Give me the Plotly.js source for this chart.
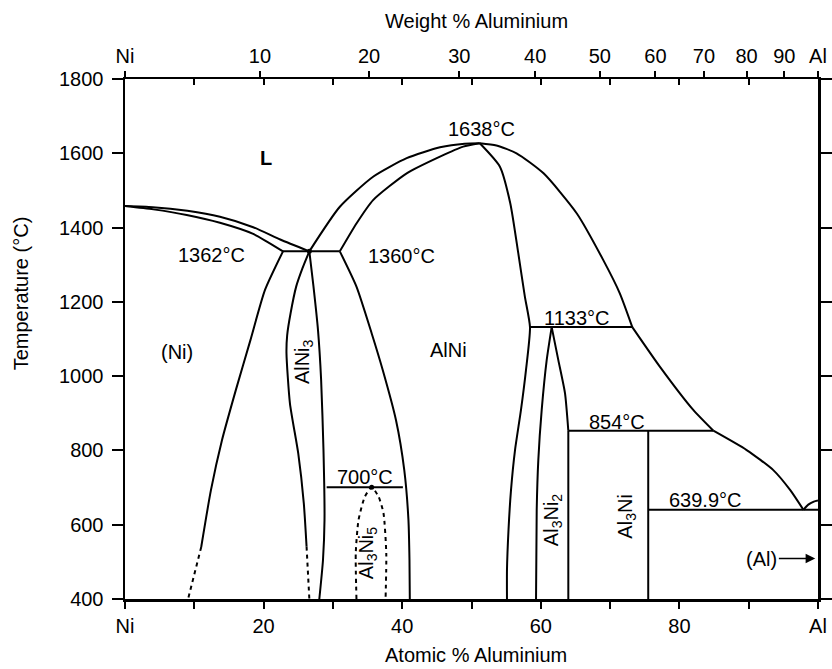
<!DOCTYPE html>
<html>
<head>
<meta charset="utf-8">
<script src="https://cdn.plot.ly/plotly-3.0.1.min.js"></script>
<style>
html,body{margin:0;padding:0;background:#fff;}
#chart{width:832px;height:669px;}
</style>
</head>
<body>
<div id="chart"></div>
<script>
// ---------- data (atomic % Al, temperature °C) ----------
const niLiqX = [0, 4.0, 9.0, 13.7, 18.5, 22.4, 26.6];
const niLiqT = [1458, 1455, 1445, 1429, 1401, 1368, 1336];
const niSolX = [0, 4.1, 8.9, 13.7, 18.5, 22.8];
const niSolT = [1458, 1449, 1434, 1413, 1383, 1336];
const perX = [22.8, 31.0];
const perT = [1336, 1336];
const niSolvX = [22.8, 20.2, 18.1, 16.0, 14.0, 12.4, 11.0];
const niSolvT = [1336, 1232, 1097, 963, 828, 693, 540];
const niSolvDashX = [11.0, 9.1];
const niSolvDashT = [540, 400];
const ni3LeftX = [26.6, 25.6, 24.7, 23.9, 23.4, 23.3, 23.8, 25.0, 25.8, 26.2];
const ni3LeftT = [1336, 1290, 1241, 1170, 1110, 1062, 927, 792, 658, 541];
const ni3LeftDashX = [26.2, 26.6];
const ni3LeftDashT = [541, 400];
const ni3RightX = [26.6, 27.2, 27.85, 28.3, 28.64, 28.79, 28.57, 28.04];
const ni3RightT = [1336, 1241, 1124, 990, 801, 613, 505, 400];
const alNiLeftX = [31.0, 33.4, 35.6, 37.2, 39.1, 40.3, 40.9, 41.05, 41.1];
const alNiLeftT = [1336, 1241, 1115, 1016, 882, 747, 613, 505, 400];
const alNiLiqLX = [26.6, 31.0, 35.8, 40.65, 45.45, 49.0, 51.2];
const alNiLiqLT = [1336, 1456, 1537, 1587, 1616, 1626, 1627];
const alNiSolLX = [31.0, 33.4, 35.8, 40.65, 45.45, 48.8, 51.2];
const alNiSolLT = [1336, 1411, 1474, 1546, 1591, 1618, 1627];
const alNiRightX = [51.2, 54.1, 55.6, 56.75, 57.7, 58.44, 57.86, 57.14, 56.28, 55.7, 55.34, 55.12, 55.12];
const alNiRightT = [1627, 1564, 1465, 1331, 1214, 1132, 1016, 909, 801, 693, 586, 478, 400];
const liqRightX = [51.2, 53.6, 56.5, 60.4, 65.2, 69.0, 71.4, 73.2];
const liqRightT = [1627, 1621, 1600, 1546, 1438, 1313, 1223, 1132];
const liqRight2X = [73.2, 77.2, 82.0, 84.9];
const liqRight2T = [1132, 1025, 909, 853];
const liqRight3X = [84.9, 89.7, 93.55, 96.0, 97.9];
const liqRight3T = [853, 801, 747, 693, 640];
const alSideX = [97.9, 98.6, 99.4, 100];
const alSideT = [640, 654, 662, 665];
const l1133X = [58.44, 73.2];
const l1133T = [1132, 1132];
const al3ni2LeftX = [59.31, 59.41, 59.64, 60.13, 60.85, 61.57];
const al3ni2LeftT = [400, 640, 774, 909, 1043, 1132];
const al3ni2RightX = [61.57, 62.53, 63.49, 63.97];
const al3ni2RightT = [1132, 1043, 954, 853];
const al3ni2VertX = [63.97, 63.97];
const al3ni2VertT = [853, 400];
const l854X = [63.97, 84.9];
const l854T = [853, 853];
const al3niX = [75.5, 75.5];
const al3niT = [853, 400];
const l640X = [75.5, 100];
const l640T = [640, 640];
const l700X = [29.1, 40.1];
const l700T = [701, 701];
const al3ni5X = [33.4, 33.3, 33.7, 34.6, 35.6, 36.6, 37.3, 37.7, 37.6];
const al3ni5T = [400, 524, 613, 675, 701, 675, 631, 524, 400];
const dotX = [26.6, 35.6];
const dotT = [1336, 701];

// tick labels
const atTicks = [0, 20, 40, 60, 80, 100];
const atLabels = ['Ni', '20', '40', '60', '80', 'Al'];
const atMinor = [10, 20, 30, 40, 50, 60, 70, 80, 90];
const wtTicks = [0, 10, 20, 30, 40, 50, 60, 70, 80, 90, 100];
const wtLabels = ['Ni', '10', '20', '30', '40', '50', '60', '70', '80', '90', 'Al'];
const tTicks = [400, 600, 800, 1000, 1200, 1400, 1600, 1800];
const M_AL = 26.98, M_NI = 58.69;
function wtToAt(w) {
  if (w <= 0) return 0;
  if (w >= 100) return 100;
  const a = w / M_AL, n = (100 - w) / M_NI;
  return 100 * a / (a + n);
}
const wtPos = wtTicks.map(wtToAt);

// ---------- traces ----------
const LW = 2;
function line(x, y, opts) {
  opts = opts || {};
  return {
    x: x, y: y, type: 'scatter', mode: 'lines',
    line: {color: '#000', width: LW, shape: opts.spline ? 'spline' : 'linear',
           smoothing: 0.6, dash: opts.dash || 'solid'},
    xaxis: opts.xaxis || 'x', yaxis: opts.yaxis || 'y',
    hoverinfo: 'skip', showlegend: false
  };
}
const DASH = '4px,4px';
const traces = [
  line(niLiqX, niLiqT, {spline: true}),
  line(niSolX, niSolT, {spline: true}),
  line(perX, perT),
  line(niSolvX, niSolvT, {spline: true}),
  line(niSolvDashX, niSolvDashT, {dash: DASH}),
  line(ni3LeftX, ni3LeftT, {spline: true}),
  line(ni3LeftDashX, ni3LeftDashT, {dash: DASH}),
  line(ni3RightX, ni3RightT, {spline: true}),
  line(alNiLeftX, alNiLeftT, {spline: true}),
  line(alNiLiqLX, alNiLiqLT, {spline: true}),
  line(alNiSolLX, alNiSolLT, {spline: true}),
  line(alNiRightX, alNiRightT, {spline: true}),
  line(liqRightX, liqRightT, {spline: true}),
  line(liqRight2X, liqRight2T, {spline: true}),
  line(liqRight3X, liqRight3T, {spline: true}),
  line(alSideX, alSideT, {spline: true}),
  line(l1133X, l1133T),
  line(al3ni2LeftX, al3ni2LeftT, {spline: true}),
  line(al3ni2RightX, al3ni2RightT, {spline: true}),
  line(al3ni2VertX, al3ni2VertT),
  line(l854X, l854T, {xaxis: 'x2'}),
  line(al3niX, al3niT, {xaxis: 'x3'}),
  line(l640X, l640T, {yaxis: 'y2'}),
  line(l700X, l700T),
  line(al3ni5X, al3ni5T, {spline: true, dash: DASH}),
  {x: dotX, y: dotT, type: 'scatter', mode: 'markers',
   marker: {color: '#000', size: 5}, hoverinfo: 'skip', showlegend: false}
];

// ---------- layout ----------
const FONT = 'Liberation Sans, Arial, Helvetica, sans-serif';
const FS = 20;
function lab(text, x, y, opts) {
  opts = opts || {};
  return Object.assign({
    text: text, x: x, y: y, xref: 'x', yref: 'y', showarrow: false,
    font: {family: FONT, size: FS, color: '#000'},
    xanchor: 'center', yanchor: 'middle'
  }, opts);
}
const annotations = [
  lab('<b>L</b>', 20.3, 1586),
  lab('1362°C', 12.55, 1325),
  lab('1360°C', 39.9, 1323),
  lab('1638°C', 51.5, 1665),
  lab('1133°C', 65.2, 1156),
  lab('(Ni)', 7.46, 1066),
  lab('AlNi', 46.65, 1070),
  lab('AlNi<sub>3</sub>', 25.75, 1039, {textangle: -90}),
  lab('700°C', 34.6, 729),
  lab('Al<sub>3</sub>Ni<sub>5</sub>', 34.9, 523, {textangle: -90}),
  lab('Al<sub>3</sub>Ni<sub>2</sub>', 61.6, 612, {textangle: -90}),
  lab('854°C', 70.95, 877),
  lab('Al<sub>3</sub>Ni', 72.4, 621, {textangle: -90}),
  lab('639.9°C', 83.7, 666),
  {text: '(Al)', x: 99.6, y: 509, ax: 91.9, ay: 509, axref: 'x', ayref: 'y', xref: 'x', yref: 'y',
   showarrow: true, arrowhead: 2, arrowsize: 1.2, arrowwidth: 1.6, arrowcolor: '#000',
   font: {family: FONT, size: FS, color: '#000'}},
  {text: 'Weight % Aluminium', xref: 'paper', yref: 'paper', x: 0.5065, y: 1.1115,
   showarrow: false, font: {family: FONT, size: FS, color: '#000'}, xanchor: 'center', yanchor: 'middle'},
  {text: 'Atomic % Aluminium', xref: 'paper', yref: 'paper', x: 0.5065, y: -0.108,
   showarrow: false, font: {family: FONT, size: FS, color: '#000'}, xanchor: 'center', yanchor: 'middle'},
  {text: 'Temperature (°C)', xref: 'paper', yref: 'paper', x: -0.150, y: 0.588, textangle: -90,
   showarrow: false, font: {family: FONT, size: FS, color: '#000'}, xanchor: 'center', yanchor: 'middle'}
];

const axBase = {
  range: [0, 100], showgrid: false, zeroline: false, fixedrange: true,
  linecolor: '#000', tickcolor: '#000',
  tickfont: {family: FONT, size: FS, color: '#000'}
};
const layout = {
  width: 832, height: 669,
  margin: {l: 125, r: 14, t: 79, b: 70},
  paper_bgcolor: '#fff', plot_bgcolor: '#fff',
  showlegend: false,
  xaxis: Object.assign({}, axBase, {
    showline: true, linewidth: 2.5, ticks: 'outside', ticklen: 7, tickwidth: 2,
    tickmode: 'array', tickvals: atTicks, ticktext: atLabels,
    minor: {ticks: 'outside', ticklen: 7, tickwidth: 2, tickcolor: '#000',
            tickmode: 'linear', tick0: 0, dtick: 10, showgrid: false}
  }),
  xaxis2: Object.assign({}, axBase, {
    overlaying: 'x', side: 'top', anchor: 'y',
    showline: true, linewidth: 2.5, ticks: 'outside', ticklen: 6, tickwidth: 2,
    tickmode: 'array', tickvals: wtPos, ticktext: wtLabels
  }),
  xaxis3: Object.assign({}, axBase, {
    overlaying: 'x', side: 'top', anchor: 'y',
    showline: false, ticks: 'inside', ticklen: 6, tickwidth: 2,
    tickmode: 'array', tickvals: atMinor, showticklabels: false
  }),
  yaxis: {
    range: [400, 1800], showgrid: false, zeroline: false, fixedrange: true,
    showline: true, linewidth: 2.5, linecolor: '#000',
    ticks: 'outside', ticklen: 11, tickwidth: 2, tickcolor: '#000',
    tickmode: 'array', tickvals: tTicks, ticklabelstandoff: 4,
    tickfont: {family: FONT, size: FS, color: '#000'}
  },
  yaxis2: {
    overlaying: 'y', side: 'right', anchor: 'x',
    range: [400, 1800], showgrid: false, zeroline: false, fixedrange: true,
    showline: true, linewidth: 2.5, linecolor: '#000',
    ticks: 'outside', ticklen: 11, tickwidth: 2, tickcolor: '#000',
    tickmode: 'array', tickvals: tTicks, showticklabels: false
  },
  annotations: annotations
};

Plotly.newPlot('chart', traces, layout, {staticPlot: true, displayModeBar: false});
</script>
</body>
</html>
